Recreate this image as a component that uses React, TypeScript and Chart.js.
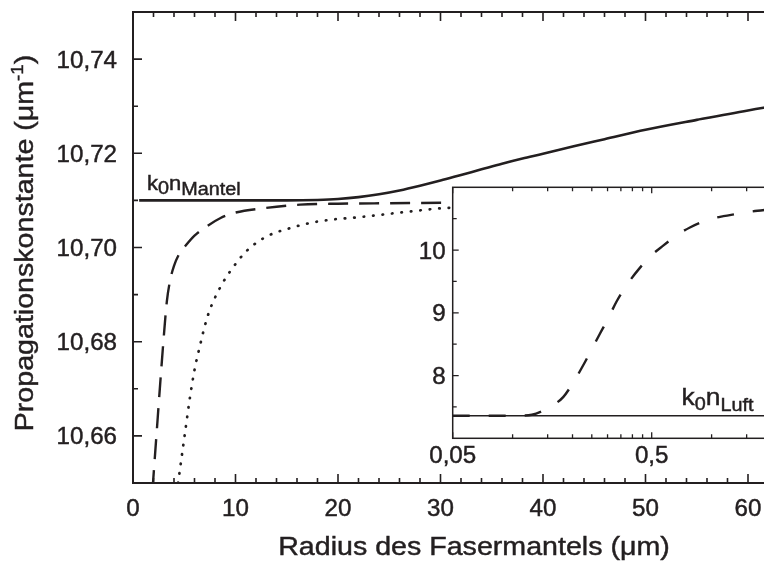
import React, { useEffect, useRef } from "react";
import { Chart, registerables } from "chart.js";

Chart.register(...registerables);

// ---------------- data (main plot) ----------------
const radiusSolid = [0.6, 5, 10, 15, 18, 20, 22, 24, 26, 28, 30, 32, 34, 36, 38, 40, 43, 46, 50, 55, 60, 66];
const betaSolid = [10.71, 10.71, 10.71, 10.71, 10.7101, 10.7103, 10.7107, 10.7113, 10.7121, 10.7131, 10.7142, 10.7154, 10.7166, 10.7178, 10.7189, 10.7199, 10.7215, 10.723, 10.725, 10.7271, 10.7291, 10.7312];

const radiusDashed = [1.9, 1.95, 2.3, 2.65, 3.0, 3.3, 3.6, 4.0, 4.5, 5.1, 6.0, 7.2, 8.5, 9.8, 13, 16.3, 20, 25, 31, 40, 66];
const betaDashed = [10.6485, 10.65, 10.6605, 10.671, 10.681, 10.6885, 10.6928, 10.6961, 10.6986, 10.7003, 10.7025, 10.7045, 10.7062, 10.7073, 10.7084, 10.7091, 10.7093, 10.7094, 10.7095, 10.7096, 10.7097];

const radiusDotted = [4.4, 4.6, 5.07, 5.56, 6.0, 6.54, 7.0, 7.5, 8.5, 9.5, 11.1, 13, 15.3, 18, 22.8, 26, 30.6, 40, 66];
const betaDotted = [10.65, 10.6532, 10.6606, 10.6682, 10.674, 10.6792, 10.6833, 10.6868, 10.6915, 10.695, 10.6993, 10.7023, 10.7041, 10.7055, 10.7066, 10.7074, 10.7084, 10.7088, 10.7092];

const xMajorTicks = [0, 10, 20, 30, 40, 50, 60];
const xMinorTicks = [2, 4, 6, 8, 12, 14, 16, 18, 22, 24, 26, 28, 32, 34, 36, 38, 42, 44, 46, 48, 52, 54, 56, 58, 62, 64];
const yMajorTicks = [10.66, 10.68, 10.7, 10.72, 10.74];
const yMinorTicks = [10.67, 10.69, 10.71, 10.73];
const k0nMantel = 10.71;

// ---------------- data (inset) ----------------
const insetRadius = [0.05, 0.08, 0.11, 0.125, 0.14, 0.16, 0.18, 0.2, 0.226, 0.25, 0.275, 0.3, 0.333, 0.38, 0.437, 0.5, 0.571, 0.67, 0.778, 0.9, 1.0, 1.146, 1.3, 1.56, 2.0];
const insetBeta = [7.36, 7.36, 7.362, 7.375, 7.43, 7.53, 7.66, 7.87, 8.16, 8.42, 8.67, 8.89, 9.18, 9.47, 9.72, 9.92, 10.07, 10.24, 10.36, 10.45, 10.5, 10.54, 10.57, 10.61, 10.65];
const k0nLuft = 7.36;
const insetXMajorTicks = [0.05, 0.5];
const insetXMinorTicks = [0.1, 0.15, 0.2, 0.25, 0.3, 0.35, 0.4, 0.45, 1.0, 1.5];
const insetYMajorTicks = [8, 9, 10];
const insetYMinorTicks = [7.5, 8.5, 9.5, 10.5];

// ---------------- styling ----------------
const INK = "#231f20";
const FONT = '"Liberation Sans", Arial, Helvetica, sans-serif';
const CANVAS_W = 840;
const CANVAS_H = 565;

type Run = { t: string; s: number; dy?: number };

function runsWidth(ctx: CanvasRenderingContext2D, runs: Run[], sx: number) {
  let w = 0;
  for (const r of runs) {
    ctx.font = `${r.s}px ${FONT}`;
    w += ctx.measureText(r.t).width * sx;
  }
  return w;
}

function drawRuns(
  ctx: CanvasRenderingContext2D,
  runs: Run[],
  x: number,
  y: number,
  sx: number,
  align: "left" | "center" | "right"
) {
  const w = runsWidth(ctx, runs, sx);
  let cx = align === "center" ? x - w / 2 : align === "right" ? x - w : x;
  ctx.textAlign = "left";
  ctx.textBaseline = "alphabetic";
  for (const r of runs) {
    ctx.font = `${r.s}px ${FONT}`;
    const rw = ctx.measureText(r.t).width * sx;
    ctx.save();
    ctx.translate(cx, y + (r.dy || 0));
    ctx.scale(sx, 1);
    ctx.fillText(r.t, 0, 0);
    ctx.lineWidth = 0.45;
    ctx.strokeText(r.t, 0, 0);
    ctx.restore();
    cx += rw;
  }
}

const fmt = (v: number, d: number) => v.toFixed(d).replace(".", ",");

const zip = (xs: number[], ys: number[]) => xs.map((x, i) => ({ x, y: ys[i] }));

const mainDecor = {
  id: "mainDecor",
  afterDraw(chart: any) {
    const { ctx, chartArea: a } = chart;
    const xs = chart.scales.x;
    const ys = chart.scales.y;
    ctx.save();
    ctx.strokeStyle = INK;
    ctx.fillStyle = INK;
    ctx.lineWidth = 2;
    ctx.strokeRect(a.left, a.top, a.right - a.left, a.bottom - a.top);
    ctx.lineWidth = 1.6;
    ctx.beginPath();
    const seg = (x1: number, y1: number, x2: number, y2: number) => {
      ctx.moveTo(x1, y1);
      ctx.lineTo(x2, y2);
    };
    for (const v of xMajorTicks) {
      const p = xs.getPixelForValue(v);
      seg(p, a.bottom, p, a.bottom - 9);
      seg(p, a.top, p, a.top + 9);
    }
    for (const v of xMinorTicks) {
      const p = xs.getPixelForValue(v);
      seg(p, a.bottom, p, a.bottom - 5);
      seg(p, a.top, p, a.top + 5);
    }
    for (const v of yMajorTicks) {
      const p = ys.getPixelForValue(v);
      seg(a.left, p, a.left + 9, p);
    }
    for (const v of yMinorTicks) {
      const p = ys.getPixelForValue(v);
      seg(a.left, p, a.left + 5, p);
    }
    ctx.stroke();

    // tick labels
    for (const v of xMajorTicks) {
      const p = xs.getPixelForValue(v);
      drawRuns(ctx, [{ t: String(v), s: 23 }], p, a.bottom + 33, 1.05, "center");
    }
    for (const v of yMajorTicks) {
      const p = ys.getPixelForValue(v);
      drawRuns(ctx, [{ t: fmt(v, 2), s: 23 }], a.left - 16, p + 8.5, 1.05, "right");
    }

    // axis titles
    drawRuns(ctx, [{ t: "Radius des Fasermantels (μm)", s: 26 }], 474, a.bottom + 72, 1.1, "center");
    ctx.save();
    ctx.translate(33, 243);
    ctx.rotate(-Math.PI / 2);
    drawRuns(
      ctx,
      [
        { t: "Propagationskonstante (μm", s: 26 },
        { t: "-1", s: 17, dy: -10 },
        { t: ")", s: 26 },
      ],
      0,
      0,
      1.1,
      "center"
    );
    ctx.restore();

    // k0 n_Mantel annotation
    drawRuns(
      ctx,
      [
        { t: "k", s: 20 },
        { t: "0", s: 18, dy: 4 },
        { t: "n", s: 20 },
        { t: "Mantel", s: 18, dy: 4.5 },
      ],
      a.left + 14,
      ys.getPixelForValue(k0nMantel) - 10,
      1.1,
      "left"
    );
    ctx.restore();
  },
};

const insetDecor = {
  id: "insetDecor",
  beforeDatasetsDraw(chart: any) {
    const { ctx, chartArea: a } = chart;
    ctx.save();
    ctx.fillStyle = "#ffffff";
    ctx.fillRect(a.left, a.top, a.right - a.left, a.bottom - a.top);
    ctx.restore();
  },
  afterDraw(chart: any) {
    const { ctx, chartArea: a } = chart;
    const xs = chart.scales.x;
    const ys = chart.scales.y;
    ctx.save();
    ctx.strokeStyle = INK;
    ctx.fillStyle = INK;
    ctx.lineWidth = 1.5;
    ctx.strokeRect(a.left, a.top, a.right - a.left, a.bottom - a.top);
    ctx.lineWidth = 1.3;
    ctx.beginPath();
    const seg = (x1: number, y1: number, x2: number, y2: number) => {
      ctx.moveTo(x1, y1);
      ctx.lineTo(x2, y2);
    };
    for (const v of insetXMajorTicks) {
      const p = xs.getPixelForValue(v);
      seg(p, a.bottom, p, a.bottom - 6);
      seg(p, a.top, p, a.top + 6);
    }
    for (const v of insetXMinorTicks) {
      const p = xs.getPixelForValue(v);
      seg(p, a.bottom, p, a.bottom - 4);
      seg(p, a.top, p, a.top + 4);
    }
    for (const v of insetYMajorTicks) {
      const p = ys.getPixelForValue(v);
      seg(a.left, p, a.left + 6, p);
    }
    for (const v of insetYMinorTicks) {
      const p = ys.getPixelForValue(v);
      seg(a.left, p, a.left + 4, p);
    }
    ctx.stroke();

    for (const v of insetXMajorTicks) {
      const p = xs.getPixelForValue(v);
      const label = v < 0.1 ? fmt(v, 2) : fmt(v, 1);
      drawRuns(ctx, [{ t: label, s: 23 }], p, a.bottom + 25, 1.05, "center");
    }
    for (const v of insetYMajorTicks) {
      const p = ys.getPixelForValue(v);
      drawRuns(ctx, [{ t: String(v), s: 23 }], a.left - 7, p + 8.5, 1.05, "right");
    }

    drawRuns(
      ctx,
      [
        { t: "k", s: 24 },
        { t: "0", s: 18, dy: 5 },
        { t: "n", s: 24 },
        { t: "Luft", s: 18, dy: 6 },
      ],
      a.right - 90,
      ys.getPixelForValue(k0nLuft) - 11,
      1.1,
      "left"
    );
    ctx.restore();
  },
};

export default function App() {
  const mainRef = useRef<HTMLCanvasElement>(null);
  const insetRef = useRef<HTMLCanvasElement>(null);

  useEffect(() => {
    const main = new Chart(mainRef.current as HTMLCanvasElement, {
      type: "line",
      data: {
        datasets: [
          {
            data: zip(radiusSolid, betaSolid),
            borderColor: INK,
            borderWidth: 2.6,
            pointRadius: 0,
            cubicInterpolationMode: "monotone",
            fill: false,
          },
          {
            data: zip(radiusDashed, betaDashed),
            borderColor: INK,
            borderWidth: 2.4,
            borderDash: [20, 11],
            pointRadius: 0,
            cubicInterpolationMode: "monotone",
            fill: false,
          },
          {
            data: zip(radiusDotted, betaDotted),
            borderColor: INK,
            borderWidth: 2.7,
            borderDash: [0.5, 9],
            borderCapStyle: "round",
            pointRadius: 0,
            cubicInterpolationMode: "monotone",
            fill: false,
          },
        ] as any,
      },
      options: {
        animation: false,
        responsive: false,
        devicePixelRatio: 1,
        events: [],
        layout: { padding: { left: 133, top: 12, right: CANVAS_W - (133 + 66 * 10.25), bottom: CANVAS_H - 483 } },
        plugins: { legend: { display: false }, tooltip: { enabled: false }, title: { display: false } },
        scales: {
          x: { type: "linear", min: 0, max: 66, display: false },
          y: { type: "linear", min: 10.65, max: 10.75, display: false },
        },
      },
      plugins: [mainDecor],
    } as any);

    const insetLeft = 452.7;
    const insetRight = insetLeft + 199 * Math.log10(2.0 / 0.05);
    const inset = new Chart(insetRef.current as HTMLCanvasElement, {
      type: "line",
      data: {
        datasets: [
          {
            data: [
              { x: insetRadius[0], y: k0nLuft },
              { x: insetRadius[insetRadius.length - 1], y: k0nLuft },
            ],
            borderColor: INK,
            borderWidth: 1.5,
            pointRadius: 0,
            fill: false,
          },
          {
            data: zip(insetRadius, insetBeta),
            borderColor: INK,
            borderWidth: 2.4,
            borderDash: [17, 19],
            pointRadius: 0,
            cubicInterpolationMode: "monotone",
            fill: false,
          },
        ] as any,
      },
      options: {
        animation: false,
        responsive: false,
        devicePixelRatio: 1,
        events: [],
        layout: {
          padding: { left: insetLeft, top: 187.3, right: CANVAS_W - insetRight, bottom: CANVAS_H - 438.3 },
        },
        plugins: { legend: { display: false }, tooltip: { enabled: false }, title: { display: false } },
        scales: {
          x: { type: "logarithmic", min: 0.05, max: 2.0, display: false },
          y: { type: "linear", min: 7, max: 11, display: false },
        },
      },
      plugins: [insetDecor],
    } as any);

    return () => {
      main.destroy();
      inset.destroy();
    };
  }, []);

  const canvasStyle: React.CSSProperties = {
    position: "absolute",
    left: 0,
    top: 0,
    width: CANVAS_W,
    height: CANVAS_H,
  };

  return (
    <div
      style={{
        position: "fixed",
        left: 0,
        top: 0,
        width: 764,
        height: 565,
        overflow: "hidden",
        background: "#ffffff",
      }}
    >
      <canvas ref={mainRef} width={CANVAS_W} height={CANVAS_H} style={canvasStyle} />
      <canvas ref={insetRef} width={CANVAS_W} height={CANVAS_H} style={canvasStyle} />
    </div>
  );
}
